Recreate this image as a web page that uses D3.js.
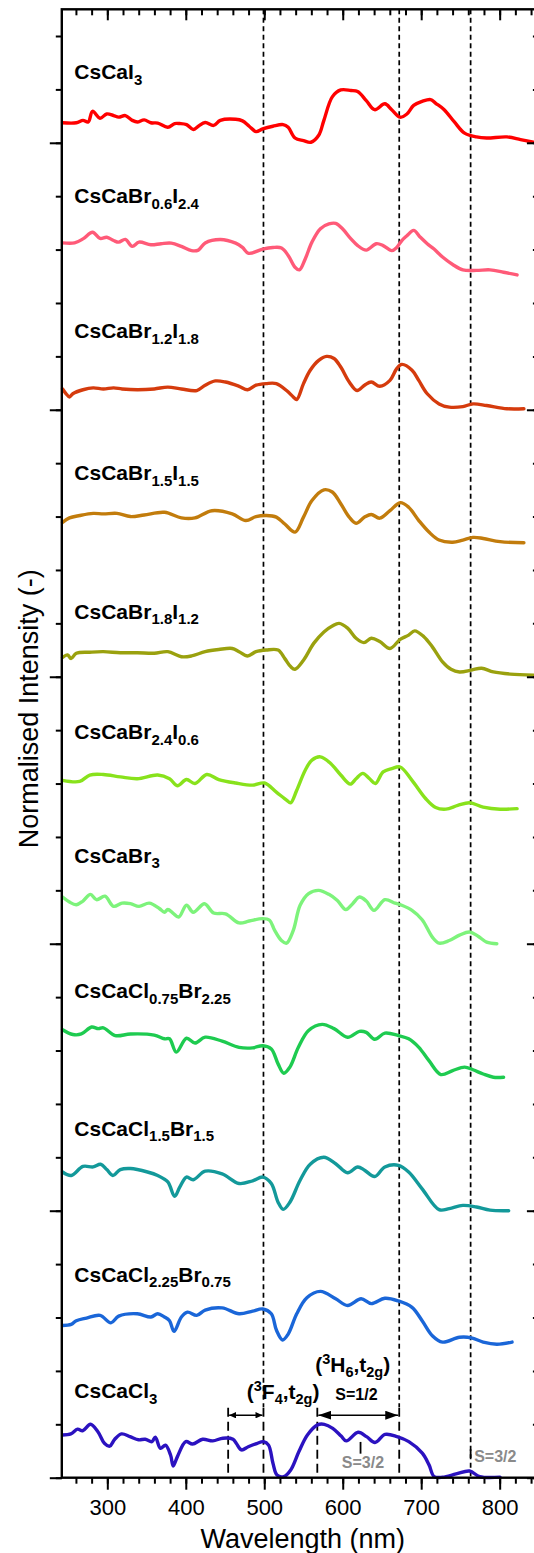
<!DOCTYPE html>
<html><head><meta charset="utf-8">
<script src="https://cdn.jsdelivr.net/npm/d3@7"></script>
<style>
html,body{margin:0;padding:0;background:#fff;}
svg{display:block;font-family:"Liberation Sans",Arial,Helvetica,sans-serif;}
</style>
</head><body>
<svg id="chart" width="534" height="1553"></svg>
<script>
// ---------------- DATA ----------------
const seriesNames = ["CsCaI3","CsCaBr0.6I2.4","CsCaBr1.2I1.8","CsCaBr1.5I1.5","CsCaBr1.8I1.2","CsCaBr2.4I0.6","CsCaBr3","CsCaCl0.75Br2.25","CsCaCl1.5Br1.5","CsCaCl2.25Br0.75","CsCaCl3"];
const seriesOffsets = [25,22.5,20,17.5,15,12.5,10,7.5,5,2.5,0];
const xTickLabels = [300,400,500,600,700,800];
const yMajorTicks = [0,5,10,15,20,25];
const markerWavelengths = [499,672,763];          // dotted guide lines
const bandWavelengths = [454,499,567.6,672];      // dashed lines in bottom annotation

const csCaI3 = [[243,0.375],[260.5,0.375],[269,0.42],[275.6,0.39],[281.2,0.59],[290.7,0.46],[299.3,0.54],[308,0.51],[314.5,0.48],[323,0.51],[331.8,0.42],[338.2,0.39],[347,0.43],[355.5,0.375],[364.2,0.37],[377,0.29],[385.8,0.36],[392.3,0.36],[401,0.34],[409.5,0.25],[416,0.31],[424.7,0.38],[435.5,0.325],[444,0.42],[463.6,0.44],[472.2,0.41],[480.8,0.31],[489.5,0.21],[498,0.26],[511,0.31],[524,0.34],[530.5,0.29],[539.2,0.09],[550,0.04],[559.5,0.01],[569.4,0.14],[576,0.42],[586.7,0.86],[597.5,0.99],[610.5,0.98],[619,0.96],[630,0.79],[640.7,0.62],[653.7,0.73],[662.4,0.62],[673.2,0.48],[681.8,0.54],[690.4,0.70],[701.2,0.775],[712,0.81],[718.5,0.74],[729.3,0.62],[742.3,0.39],[755.3,0.18],[770.4,0.11],[783.4,0.09],[809.3,0.11],[826.6,0.06],[843,0.01]];
const csCaBr06I24 = [[243,0.625],[258.3,0.625],[269,0.70],[281.2,0.825],[290.7,0.71],[299.3,0.73],[308,0.67],[314.5,0.64],[323,0.69],[331.8,0.56],[340.4,0.64],[355.5,0.59],[368.5,0.61],[381.5,0.62],[394.4,0.56],[407.4,0.48],[416,0.49],[424.7,0.625],[444,0.69],[463.6,0.62],[472.2,0.54],[480,0.43],[498,0.51],[511,0.54],[522,0.53],[530.5,0.39],[539.2,0.17],[544.8,0.12],[552.2,0.325],[560.8,0.64],[571.6,0.89],[582.4,0.98],[591,0.99],[599.7,0.89],[610.5,0.70],[619.1,0.575],[630,0.49],[642.9,0.61],[651.5,0.575],[662.4,0.48],[668.8,0.54],[675.3,0.67],[681.8,0.76],[690.4,0.86],[699,0.73],[707.7,0.61],[716.4,0.51],[727.2,0.36],[740.1,0.22],[753.1,0.12],[770.4,0.11],[787.7,0.12],[805,0.075],[822.2,0.025]];
const csCaBr12I18 = [[243,0.39],[247.5,0.30],[251.8,0.24],[256,0.30],[269,0.375],[282,0.41],[295,0.39],[308,0.41],[318.8,0.39],[338.2,0.375],[359.8,0.39],[377,0.425],[394.4,0.39],[413.9,0.36],[424.7,0.46],[437.6,0.54],[450.6,0.52],[467.9,0.44],[478.7,0.375],[489.5,0.46],[502.5,0.49],[515.4,0.49],[528.4,0.36],[537,0.24],[541.4,0.19],[550,0.49],[558.6,0.74],[569.4,0.925],[579.4,1.0],[588.9,0.96],[597.5,0.80],[608.3,0.52],[618.3,0.36],[627.8,0.46],[636.4,0.52],[647.2,0.44],[660.2,0.55],[668.8,0.77],[675.3,0.85],[688.3,0.74],[696.9,0.55],[707.7,0.30],[722.8,0.11],[735.8,0.05],[753.1,0.06],[766,0.11],[783.4,0.08],[809.3,0.02],[830.9,0.02]];
const csCaBr15I15 = [[243,0.39],[251.8,0.475],[264.8,0.52],[282,0.56],[295,0.55],[312.3,0.56],[329.5,0.50],[346.9,0.53],[372.9,0.58],[394.4,0.475],[411.7,0.475],[433.3,0.61],[459.2,0.55],[476.5,0.425],[489.5,0.50],[502.5,0.52],[515.4,0.49],[526.2,0.36],[539.2,0.21],[550,0.49],[560.8,0.80],[576,1.0],[586.7,0.96],[597.5,0.74],[608.3,0.49],[617,0.375],[627.8,0.49],[636.4,0.54],[647.2,0.47],[660.2,0.61],[673.2,0.76],[684,0.675],[697,0.425],[709.9,0.21],[722.8,0.06],[740.1,0.02],[753.1,0.06],[766,0.11],[779,0.09],[800.6,0.03],[830.9,0.01]];
const csCaBr18I12 = [[243,0.36],[249.4,0.41],[253.8,0.34],[260.5,0.44],[277.7,0.46],[295,0.47],[316.6,0.45],[338.2,0.45],[359.8,0.44],[377.1,0.47],[394.4,0.375],[407.4,0.39],[424.7,0.47],[442,0.51],[459.2,0.53],[467.9,0.47],[478.7,0.39],[489.5,0.47],[502.5,0.50],[517.6,0.50],[526.2,0.34],[533.6,0.19],[539.2,0.14],[550,0.31],[563,0.625],[576,0.84],[586.7,0.95],[595.4,1.0],[606.2,0.91],[617,0.72],[627,0.64],[636.4,0.72],[647.2,0.66],[660.2,0.53],[673.2,0.70],[684,0.78],[691.7,0.86],[703.4,0.75],[714.2,0.56],[727.2,0.28],[738,0.14],[748.8,0.09],[764,0.125],[776.9,0.16],[792,0.09],[813.6,0.05],[843,0.03]];
const csCaBr24I06 = [[243,0.56],[264.8,0.54],[277.7,0.66],[295,0.67],[316.6,0.625],[338.2,0.59],[364.2,0.66],[379.3,0.59],[389.2,0.46],[400.9,0.575],[411.7,0.50],[426.8,0.67],[442,0.575],[463.6,0.51],[485.2,0.47],[500.3,0.51],[515.4,0.34],[528.4,0.19],[533.6,0.14],[541.4,0.375],[552.2,0.75],[560.8,0.94],[571.6,1.0],[584.6,0.875],[597.5,0.66],[609.6,0.49],[617,0.59],[625.6,0.69],[634.3,0.59],[641.6,0.50],[651.5,0.72],[662.4,0.78],[673.2,0.81],[688.3,0.56],[705.6,0.22],[718.5,0.05],[731.5,0.02],[746.6,0.09],[761.7,0.14],[779,0.06],[800.6,0.02],[822.2,0.03]];
const csCaBr3 = [[243,0.875],[251.8,0.78],[260.5,0.73],[269,0.80],[278.5,0.925],[286.3,0.825],[297,0.89],[308,0.70],[318.8,0.76],[329.5,0.75],[340.4,0.70],[353.4,0.76],[366.3,0.66],[372.8,0.59],[377.1,0.64],[383.6,0.575],[391,0.50],[400.9,0.72],[409.5,0.59],[423.8,0.75],[435.5,0.575],[450.6,0.56],[467.9,0.39],[480.8,0.425],[498.1,0.47],[506.8,0.44],[513.3,0.25],[521.9,0.06],[528.4,0.01],[537,0.25],[545.7,0.72],[556.5,0.94],[569.4,1.0],[582.4,0.925],[593.2,0.81],[604,0.64],[612.7,0.75],[621.3,0.875],[630,0.80],[639.9,0.625],[653.7,0.825],[666.7,0.76],[675.3,0.72],[688.3,0.625],[701.2,0.45],[714.2,0.125],[722.8,0.01],[735.8,0.06],[748.8,0.16],[761.7,0.22],[772.5,0.14],[783.4,0.03],[796.4,0.0]];
const csCaCl075Br225 = [[243,0.89],[256.1,0.80],[266.9,0.81],[279.9,0.94],[288.5,0.91],[295,0.925],[310.1,0.78],[329.5,0.81],[359.8,0.79],[372.8,0.72],[379.3,0.72],[387.9,0.47],[400.9,0.73],[411.7,0.64],[424.7,0.75],[446.3,0.675],[467.9,0.56],[485.2,0.55],[498.1,0.59],[509,0.53],[517.6,0.25],[524.9,0.075],[532.7,0.19],[543.5,0.56],[556.5,0.875],[573.8,0.99],[588.9,0.91],[606.2,0.75],[621.3,0.86],[630,0.84],[640.7,0.71],[653.7,0.825],[671,0.78],[684,0.72],[697,0.56],[709.9,0.31],[725,0.05],[740.1,0.125],[755.3,0.19],[766,0.14],[779,0.06],[792,0.0],[805,0.0]];
const csCaCl15Br15 = [[243,0.725],[254,0.66],[269,0.83],[282,0.82],[291.5,0.87],[299.3,0.77],[307.1,0.66],[316.6,0.77],[329.5,0.79],[351.2,0.725],[364.2,0.66],[377.1,0.54],[385.8,0.27],[392.3,0.44],[400.9,0.63],[409.5,0.58],[424.7,0.74],[446.3,0.69],[467.9,0.51],[485.2,0.56],[498.1,0.63],[509,0.51],[517.6,0.16],[524.1,0.025],[532.7,0.16],[545.7,0.57],[558.6,0.87],[575.9,1.0],[591,0.88],[606.2,0.71],[619.1,0.82],[627.8,0.76],[640.7,0.64],[653.7,0.82],[671,0.85],[684,0.725],[701.2,0.41],[722.8,0.02],[735.8,0.04],[753.1,0.10],[770.4,0.07],[787.7,0.01],[811.5,0.0]];
const csCaCl225Br075 = [[243,0.35],[254,0.37],[260.5,0.44],[273.5,0.49],[290.7,0.54],[304.6,0.40],[314.5,0.525],[338.2,0.57],[355.5,0.51],[364.2,0.57],[372.8,0.51],[379.3,0.44],[385,0.24],[394.4,0.51],[402.2,0.60],[413.9,0.54],[424.7,0.64],[446.3,0.68],[467.9,0.57],[485.2,0.62],[498.1,0.66],[509,0.57],[515.6,0.26],[523.3,0.08],[530.5,0.19],[541.4,0.57],[554.3,0.87],[571.6,0.99],[591,0.85],[606.2,0.725],[623.4,0.85],[636.4,0.76],[653.7,0.86],[671,0.81],[688.3,0.69],[701.2,0.44],[714.2,0.16],[727.2,0.04],[748.8,0.13],[763.9,0.12],[779,0.04],[796.4,0.0],[815.8,0.04]];
const csCaCl3 = [[243,0.80],[253.5,0.82],[262.1,0.91],[268.6,0.88],[278.5,1.0],[288,0.86],[296.6,0.64],[303,0.59],[309.5,0.72],[318.1,0.82],[328.9,0.77],[339.7,0.71],[348.3,0.72],[356.9,0.675],[361.2,0.76],[367.7,0.55],[374.1,0.61],[380.6,0.425],[384,0.22],[389.2,0.39],[400,0.675],[408.6,0.63],[421.5,0.72],[434.4,0.69],[447.3,0.74],[460.2,0.72],[464.5,0.64],[471,0.52],[479.6,0.58],[490.4,0.64],[499,0.675],[505.5,0.61],[511.1,0.27],[516.2,0.05],[524.8,0.02],[533.5,0.14],[544.2,0.49],[555,0.80],[567.9,0.99],[576.5,1.0],[587.3,0.925],[598,0.78],[604.5,0.69],[619.6,0.85],[630.3,0.77],[641.1,0.66],[654,0.81],[669.1,0.77],[684.2,0.675],[701.4,0.46],[710,0.24],[716.5,0.02],[727.3,0.01],[744.5,0.07],[761.7,0.125],[774.6,0.02],[800.5,0.01]];

const seriesData = [csCaI3,csCaBr06I24,csCaBr12I18,csCaBr15I15,csCaBr18I12,csCaBr24I06,csCaBr3,csCaCl075Br225,csCaCl15Br15,csCaCl225Br075,csCaCl3];

// label text pieces: [text, 1 = subscript]
const seriesLabels = [
  [["CsCaI",0],["3",1]],
  [["CsCaBr",0],["0.6",1],["I",0],["2.4",1]],
  [["CsCaBr",0],["1.2",1],["I",0],["1.8",1]],
  [["CsCaBr",0],["1.5",1],["I",0],["1.5",1]],
  [["CsCaBr",0],["1.8",1],["I",0],["1.2",1]],
  [["CsCaBr",0],["2.4",1],["I",0],["0.6",1]],
  [["CsCaBr",0],["3",1]],
  [["CsCaCl",0],["0.75",1],["Br",0],["2.25",1]],
  [["CsCaCl",0],["1.5",1],["Br",0],["1.5",1]],
  [["CsCaCl",0],["2.25",1],["Br",0],["0.75",1]],
  [["CsCaCl",0],["3",1]]
];

// ---------------- STYLE / LAYOUT ----------------
const colors = ["#ff0000","#ff5a78","#d53b0d","#c27c0c","#9aa10e","#88e21c","#7df37b","#1ecb50","#13999a","#1a66d8","#2b12c0"];
const labelLevels = [1.19,1.37,1.34,1.18,1.09,1.33,1.52,1.48,1.40,1.17,1.49];

const svg = d3.select("#chart");
const x = d3.scaleLinear().domain([242, 850]).range([61.8, 538.9]);
const y = d3.scaleLinear().domain([0, 27.5]).range([1477.7, 9.3]);

// guide lines (behind curves)
const guides = svg.append("g");
markerWavelengths.forEach(w => {
  const bottom = (w === 763) ? 0 : 1.32;
  guides.append("line")
    .attr("x1", x(w)).attr("x2", x(w))
    .attr("y1", y(27.5)).attr("y2", y(bottom))
    .attr("stroke", "#000").attr("stroke-width", 1.7)
    .attr("stroke-dasharray", "5,3.5");
});
bandWavelengths.forEach(w => {
  guides.append("line")
    .attr("x1", x(w)).attr("x2", x(w))
    .attr("y1", y(1.31)).attr("y2", y(0))
    .attr("stroke", "#000").attr("stroke-width", 1.8)
    .attr("stroke-dasharray", "9,5");
});
// small solid marks for S=3/2
[[622.7,0.45,0.67],[763,0.37,0.53]].forEach(m => {
  guides.append("line")
    .attr("x1", x(m[0])).attr("x2", x(m[0]))
    .attr("y1", y(m[1])).attr("y2", y(m[2]))
    .attr("stroke", "#000").attr("stroke-width", 1.8);
});

// curves
const line = d3.line().curve(d3.curveCatmullRom.alpha(0.5));
seriesData.forEach((data, i) => {
  line.x(d => x(d[0])).y(d => y(d[1] + seriesOffsets[i]));
  svg.append("path")
    .attr("d", line(data))
    .attr("fill", "none")
    .attr("stroke", colors[i])
    .attr("stroke-width", 3.4)
    .attr("stroke-linejoin", "round")
    .attr("stroke-linecap", "round");
});

// series labels
seriesLabels.forEach((parts, i) => {
  const t = svg.append("text")
    .attr("x", x(258)).attr("y", y(seriesOffsets[i] + labelLevels[i]))
    .attr("font-size", 21).attr("font-weight", "bold").attr("fill", "#000");
  let prevSub = 0;
  parts.forEach(p => {
    const ts = t.append("tspan").text(p[0]);
    if (p[1]) { ts.attr("font-size", 15).attr("dy", prevSub ? 0 : 5.5); }
    else { ts.attr("dy", prevSub ? -5.5 : 0); }
    prevSub = p[1];
  });
});

// ---------------- AXES ----------------
const axisW = 2.4;
function styleAxis(g) {
  g.select(".domain").remove();
  g.selectAll(".tick line").attr("stroke", "#000").attr("stroke-width", 2);
}
const minorX = d3.range(260, 850, 20);
const minorY = d3.range(0, 28, 1);
// bottom
svg.append("g").attr("transform", `translate(0,${y(0)})`)
  .call(d3.axisBottom(x).tickValues(minorX).tickSize(6).tickFormat(""))
  .call(styleAxis);
const bAxis = svg.append("g").attr("transform", `translate(0,${y(0)})`)
  .call(d3.axisBottom(x).tickValues(xTickLabels).tickSize(12).tickPadding(10))
  .call(styleAxis);
bAxis.selectAll(".tick text").attr("font-size", 22).attr("fill", "#000")
  .attr("font-family", "Liberation Sans, Arial, sans-serif")
  .attr("y", 37.5).attr("dy", 0);
// top (inward)
svg.append("g").attr("transform", `translate(0,${y(27.5)})`)
  .call(d3.axisTop(x).tickValues(minorX).tickSize(-6).tickFormat(""))
  .call(styleAxis);
svg.append("g").attr("transform", `translate(0,${y(27.5)})`)
  .call(d3.axisTop(x).tickValues(xTickLabels).tickSize(-11).tickFormat(""))
  .call(styleAxis);
// left (outward)
svg.append("g").attr("transform", `translate(${x(242)},0)`)
  .call(d3.axisLeft(y).tickValues(minorY).tickSize(6).tickFormat(""))
  .call(styleAxis);
svg.append("g").attr("transform", `translate(${x(242)},0)`)
  .call(d3.axisLeft(y).tickValues(yMajorTicks).tickSize(12).tickFormat(""))
  .call(styleAxis);
// right (inward)
svg.append("g").attr("transform", `translate(${x(850)},0)`)
  .call(d3.axisRight(y).tickValues(minorY).tickSize(-6).tickFormat(""))
  .call(styleAxis);
svg.append("g").attr("transform", `translate(${x(850)},0)`)
  .call(d3.axisRight(y).tickValues(yMajorTicks).tickSize(-12).tickFormat(""))
  .call(styleAxis);
// frame
svg.append("rect")
  .attr("x", x(242)).attr("y", y(27.5))
  .attr("width", x(850) - x(242)).attr("height", y(0) - y(27.5))
  .attr("fill", "none").attr("stroke", "#000").attr("stroke-width", axisW);

// axis titles
svg.append("text")
  .attr("x", x(549)).attr("y", 1548)
  .attr("text-anchor", "middle").attr("font-size", 27).attr("fill", "#000")
  .text("Wavelength (nm)");
svg.append("text")
  .attr("transform", `translate(38,${y(14.4)}) rotate(-90)`)
  .attr("text-anchor", "middle").attr("font-size", 27).attr("fill", "#000")
  .text("Normalised Intensity (-)");

// ---------------- ANNOTATIONS ----------------
const defs = svg.append("defs");
function mk(id, len, half) {
  defs.append("marker").attr("id", id)
    .attr("viewBox", `0 0 ${len} ${half*2}`)
    .attr("refX", len).attr("refY", half)
    .attr("markerWidth", len).attr("markerHeight", half*2)
    .attr("markerUnits", "userSpaceOnUse")
    .attr("orient", "auto-start-reverse")
    .append("path").attr("d", `M0,0L${len},${half}L0,${half*2}Z`).attr("fill", "#000");
}
mk("arrS", 7, 3.2);
mk("arrL", 13, 4.5);
[[454,499,"arrS"],[567.6,672,"arrL"]].forEach(a => {
  svg.append("line")
    .attr("x1", x(a[0]) + 1).attr("x2", x(a[1]) - 1)
    .attr("y1", y(1.17)).attr("y2", y(1.17))
    .attr("stroke", "#000").attr("stroke-width", 1.4)
    .attr("marker-start", `url(#${a[2]})`).attr("marker-end", `url(#${a[2]})`);
});

// state labels: [text, 0 normal, 1 sub, 2 sup]
const stateLabels = [
  {parts:[["(",0],["3",2],["H",0],["6",1],[",t",0],["2g",1],[")",0]], nm:612.7, v:1.985},
  {parts:[["(",0],["3",2],["F",0],["4",1],[",t",0],["2g",1],[")",0]], nm:524, v:1.47}
];
stateLabels.forEach(s => {
  const t = svg.append("text").attr("x", x(s.nm)).attr("y", y(s.v))
    .attr("text-anchor", "middle").attr("font-size", 21).attr("font-weight", "bold").attr("fill", "#000");
  let shift = 0;
  s.parts.forEach(p => {
    const target = p[1] === 1 ? 5 : (p[1] === 2 ? -8 : 0);
    const ts = t.append("tspan").text(p[0]).attr("dy", target - shift);
    if (p[1]) ts.attr("font-size", 14.5);
    shift = target;
  });
});
svg.append("text").attr("x", x(617.5)).attr("y", y(1.455))
  .attr("text-anchor", "middle").attr("font-size", 16).attr("font-weight", "bold").attr("fill", "#000")
  .text("S=1/2");
[[625.8,"middle",0.19],[767.5,"start",0.30]].forEach(s => {
  svg.append("text").attr("x", x(s[0])).attr("y", y(s[2]))
    .attr("text-anchor", s[1]).attr("font-size", 16).attr("font-weight", "bold").attr("fill", "#8a8a8a")
    .text("S=3/2");
});
</script>
</body></html>
